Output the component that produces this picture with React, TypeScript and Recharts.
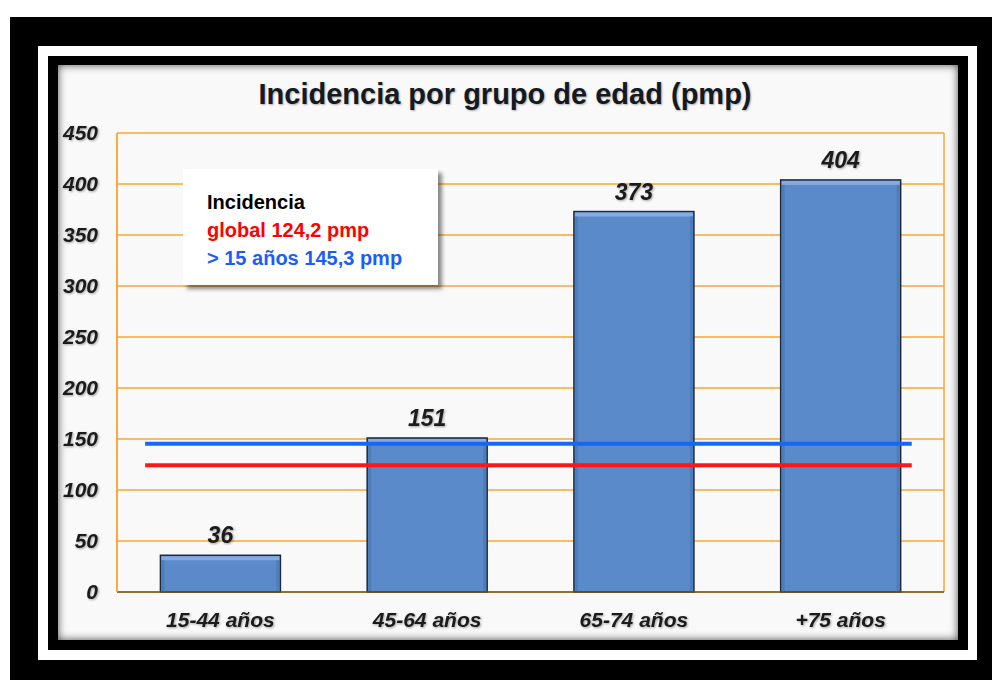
import {
  BarChart,
  Bar,
  XAxis,
  YAxis,
  CartesianGrid,
  ReferenceLine,
  LabelList,
} from "recharts";

const ageGroups = ["15-44 años", "45-64 años", "65-74 años", "+75 años"];
const incidence = [36, 151, 373, 404];
const yTicks = [0, 50, 100, 150, 200, 250, 300, 350, 400, 450];

// overall rates drawn as horizontal lines
const globalRate = 124.2;
const adultRate = 145.3;
// horizontal extent of the rate lines, as a share of the plot width
const rateSpan = [0.034, 0.961];

const data = ageGroups.map((group, i) => ({ group, value: incidence[i] }));

const FONT = "Arial, 'Liberation Sans', sans-serif";
const ORANGE = "#F8A631";
const shadow = "drop-shadow(1px 1px 1px rgba(0,0,0,0.35))";

// shortened horizontal line inside the plot
function RateLine(props: any) {
  const { x1, x2, y1, stroke, strokeWidth } = props;
  const w = x2 - x1;
  return (
    <line
      x1={x1 + w * rateSpan[0]}
      x2={x1 + w * rateSpan[1]}
      y1={y1}
      y2={y1}
      stroke={stroke}
      strokeWidth={strokeWidth}
    />
  );
}

// bar with a thin bevel highlight on top
function BevelBar(props: any) {
  const { x, y, width, height } = props;
  if (!height || height <= 0) return null;
  return (
    <g>
      <rect x={x} y={y} width={width} height={height} fill="#5a8ac9" stroke="#1c2a3c" strokeWidth={1.5} />
      <rect x={x + 1} y={y + 1} width={width - 2} height={4} fill="#86aade" />
      <rect x={x + 1} y={y + 5} width={3} height={height - 6} fill="#4f7dba" />
      <rect x={x + width - 4} y={y + 5} width={3} height={height - 6} fill="#4f7dba" />
    </g>
  );
}

export default function App() {
  return (
    <div
      style={{
        position: "absolute",
        left: 0,
        top: 0,
        width: 992,
        height: 680,
        background: "#fff",
        fontFamily: FONT,
      }}
    >
      {/* outer black frame */}
      <div style={{ position: "absolute", left: 10, top: 17, width: 982, height: 663, background: "#000" }} />
      {/* white border */}
      <div style={{ position: "absolute", left: 38, top: 46, width: 939, height: 614, background: "#fff" }} />
      {/* inner black border */}
      <div style={{ position: "absolute", left: 48, top: 56, width: 920, height: 594, background: "#000" }} />

      {/* chart panel */}
      <div
        style={{
          position: "absolute",
          left: 58,
          top: 65,
          width: 900,
          height: 575,
          background: "#f9f9f9",
          boxShadow: "inset 0 0 9px rgba(0,0,0,0.7)",
        }}
      >
        <div
          style={{
            position: "absolute",
            left: 0,
            top: 12,
            width: 894,
            textAlign: "center",
            fontSize: 29,
            lineHeight: "34px",
            fontWeight: "bold",
            color: "#151a22",
            textShadow: "1px 1px 2px rgba(0,0,0,0.3)",
          }}
        >
          Incidencia por grupo de edad (pmp)
        </div>

        <BarChart
          width={900}
          height={575}
          data={data}
          margin={{ top: 68, right: 14, left: 0, bottom: 0 }}
          barCategoryGap="21%"
          style={{ position: "absolute", left: 0, top: 0 }}
        >
          <CartesianGrid
            stroke={ORANGE}
            strokeWidth={1.5}
            vertical={true}
            verticalCoordinatesGenerator={({ offset }: any) => [
              offset.left,
              offset.left + offset.width,
            ]}
          />
          <XAxis
            dataKey="group"
            height={48}
            tickLine={false}
            tickSize={10}
            tickMargin={10}
            axisLine={{ stroke: "#6e5522", strokeWidth: 1.5 }}
            tick={{
              fontSize: 21,
              fontWeight: "bold",
              fontStyle: "italic",
              fill: "#1b1b1b",
              fontFamily: FONT,
              style: { filter: shadow },
            }}
          />
          <YAxis
            width={59}
            domain={[0, 450]}
            ticks={yTicks}
            interval={0}
            tickLine={false}
            tickSize={10}
            tickMargin={9}
            axisLine={{ stroke: ORANGE, strokeWidth: 1.5 }}
            tick={{
              fontSize: 21,
              fontWeight: "bold",
              fontStyle: "italic",
              fill: "#1b1b1b",
              fontFamily: FONT,
              style: { filter: shadow },
            }}
          />
          <Bar
            dataKey="value"
            shape={<BevelBar />}
            isAnimationActive={false}
          >
            <LabelList
              dataKey="value"
              position="top"
              offset={12}
              style={{
                fontSize: 23,
                fontWeight: "bold",
                fontStyle: "italic",
                fill: "#1b1b1b",
                fontFamily: FONT,
                filter: shadow,
              }}
            />
          </Bar>
          <ReferenceLine
            y={adultRate}
            stroke="#1767f2"
            strokeWidth={4}
            shape={<RateLine />}
          />
          <ReferenceLine
            y={globalRate}
            stroke="#ff1616"
            strokeWidth={4}
            shape={<RateLine />}
          />
        </BarChart>

        {/* incidence note */}
        <div
          style={{
            position: "absolute",
            left: 125,
            top: 104,
            width: 231,
            height: 97,
            padding: "19px 0 0 24px",
            background: "#fff",
            boxShadow: "4px 4px 4px rgba(0,0,0,0.45)",
            fontSize: 20,
            lineHeight: "28px",
            fontWeight: "bold",
          }}
        >
          <div style={{ color: "#000" }}>Incidencia</div>
          <div style={{ color: "#ff0000" }}>global 124,2 pmp</div>
          <div style={{ color: "#1c5cff" }}>&gt; 15 años 145,3 pmp</div>
        </div>
      </div>
    </div>
  );
}
